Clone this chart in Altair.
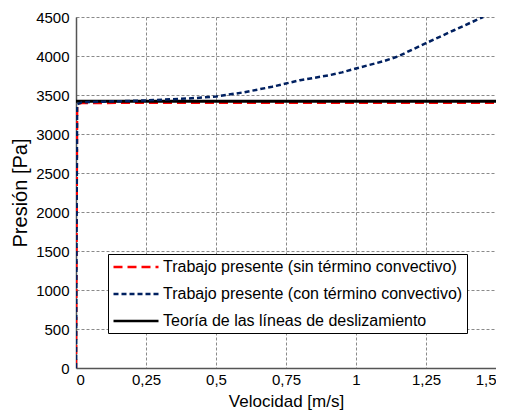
import altair as alt
import pandas as pd

# Series names
S_RED = "Trabajo presente (sin término convectivo)"
S_BLUE = "Trabajo presente (con término convectivo)"
S_BLACK = "Teoría de las líneas de deslizamiento"

red_x = [0.0, 0.004, 0.02, 0.25, 0.5, 0.75, 1.0, 1.25, 1.5]
red_y = [0, 3385, 3398, 3400, 3400, 3400, 3400, 3400, 3400]

blue_x = [0.0, 0.004, 0.02, 0.1, 0.25, 0.4, 0.5, 0.6, 0.7, 0.8, 0.9, 0.95, 1.0, 1.1, 1.15, 1.25, 1.35, 1.454]
blue_y = [0, 3380, 3405, 3415, 3430, 3455, 3480, 3535, 3605, 3690, 3750, 3790, 3840, 3935, 3995, 4165, 4330, 4500]

black_x = [0.0, 1.5]
black_y = [3420, 3420]

x_ticks = [0, 0.25, 0.5, 0.75, 1, 1.25, 1.5]
y_ticks = [0, 500, 1000, 1500, 2000, 2500, 3000, 3500, 4000, 4500]

rows = []
for i, (x, y) in enumerate(zip(red_x, red_y)):
    rows.append({"v": x, "p": y, "s": S_RED, "o": i})
for i, (x, y) in enumerate(zip(blue_x, blue_y)):
    rows.append({"v": x, "p": y, "s": S_BLUE, "o": i})
for i, (x, y) in enumerate(zip(black_x, black_y)):
    rows.append({"v": x, "p": y, "s": S_BLACK, "o": i})
df = pd.DataFrame(rows)

FONT = "Liberation Sans"
domain = [S_RED, S_BLUE, S_BLACK]
color_scale = alt.Scale(domain=domain, range=["#ff0000", "#002060", "#000000"])
dash_scale = alt.Scale(domain=domain, range=[[9, 5], [5, 3], [1, 0]])

xenc = alt.X("v:Q", scale=alt.Scale(domain=[0, 1.5], nice=False),
             axis=alt.Axis(values=x_ticks,
                           labelExpr="replace(toString(datum.value), '.', ',')",
                           title="Velocidad [m/s]"))
yenc = alt.Y("p:Q", scale=alt.Scale(domain=[0, 4500], nice=False),
             axis=alt.Axis(values=y_ticks, format="d", title="Presión [Pa]"))

legend = alt.Legend(title=None, orient="none", legendX=32, legendY=237,
                    symbolType="M-3,0H3", symbolSize=225, symbolStrokeWidth=2.5,
                    symbolOffset=15,
                    labelFont=FONT, labelFontSize=16, labelColor="#000",
                    strokeColor="#000", fillColor="#fff", padding=4,
                    rowPadding=10, labelLimit=400, labelOffset=18)

def layer(name, width):
    return alt.Chart(df).transform_filter(alt.datum.s == name).mark_line(
        strokeWidth=width, clip=True
    ).encode(
        x=xenc, y=yenc,
        color=alt.Color("s:N", scale=color_scale, legend=legend),
        strokeDash=alt.StrokeDash("s:N", scale=dash_scale, legend=legend),
        order="o:Q",
    )

chart = alt.layer(
    layer(S_RED, 2.5), layer(S_BLACK, 3), layer(S_BLUE, 2.5)
).properties(
    width=420, height=351,
    autosize=alt.AutoSizeParams(type="none"),
    padding={"left": 68, "top": 9, "right": 0, "bottom": 44},
).configure_view(stroke=None).configure_axis(
    grid=True, gridColor="#8a8a8a", gridDash=[3, 2], gridWidth=1,
    ticks=False, domainColor="#555", domainWidth=1.5,
    labelFont=FONT, labelFontSize=15, labelColor="#000",
    titleFont=FONT, titleFontWeight="normal", titleColor="#000",
).configure_axisX(labelPadding=4, titlePadding=6, titleFontSize=17).configure_axisY(
    labelPadding=7, titlePadding=5, titleFontSize=20)

chart.save("out.html", embed_options={"renderer": "svg", "actions": False})
